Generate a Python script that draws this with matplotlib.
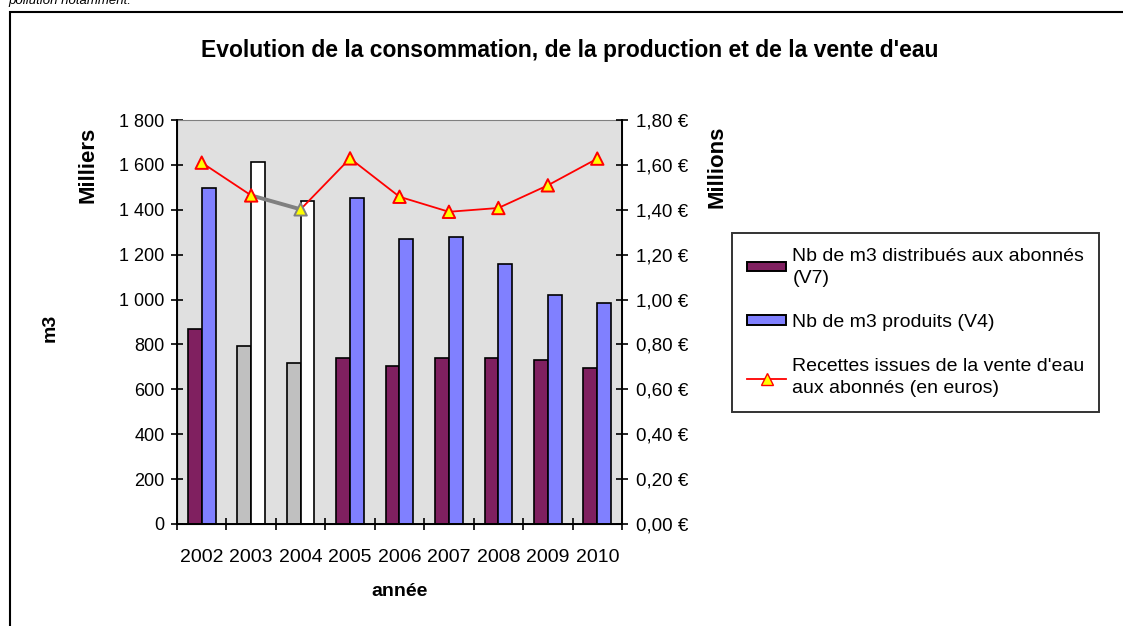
import matplotlib
matplotlib.use("Agg")
import matplotlib.pyplot as plt
import numpy as np
from matplotlib.patches import Rectangle, Patch
from matplotlib.lines import Line2D
from matplotlib.ticker import FuncFormatter, FixedLocator

plt.rcParams['font.family'] = ['Liberation Sans', 'DejaVu Sans']

years = ['2002', '2003', '2004', '2005', '2006', '2007', '2008', '2009', '2010']
distribues = [870, 794, 719, 739, 704, 739, 739, 731, 696]          # milliers de m3
produits = [1496, 1613, 1439, 1454, 1271, 1279, 1160, 1020, 985]    # milliers de m3
recettes = [1.610, 1.464, 1.402, 1.629, 1.458, 1.391, 1.408, 1.509, 1.628]  # millions €

title = "Evolution de la consommation, de la production et de la vente d'eau"
lab_dist = "Nb de m3 distribués aux abonnés\n(V7)"
lab_prod = "Nb de m3 produits (V4)"
lab_rec = "Recettes issues de la vente d'eau\naux abonnés (en euros)"

W, H = 1123, 626
fig = plt.figure(figsize=(W / 100, H / 100), dpi=100)

def fx(px):
    return px / W

def fy(py):
    return 1 - py / H

# outer frame
fig.patches.append(Rectangle((fx(10), fy(700)), fx(1200), fy(12) - fy(700),
                             transform=fig.transFigure, fill=False,
                             edgecolor='black', linewidth=1.5, clip_on=False))
fig.text(fx(8), fy(4), "pollution notamment.", fontsize=9.5, style='italic',
         ha='left', va='baseline')

ax = fig.add_axes([fx(177), fy(524), fx(622) - fx(177), fy(120) - fy(524)])
ax.set_facecolor('#E0E0E0')

x = np.arange(len(years))
w = 0.28
dist_colors = ['#802060'] * len(years)
prod_colors = ['#8080FF'] * len(years)
for i in (1, 2):
    dist_colors[i] = '#C0C0C0'
    prod_colors[i] = '#FFFFFF'
ax.bar(x - w / 2, distribues, w, color=dist_colors, edgecolor='black', linewidth=1.2)
ax.bar(x + w / 2, produits, w, color=prod_colors, edgecolor='black', linewidth=1.2)

ax.set_xlim(-0.5, len(years) - 0.5)
ax.set_ylim(0, 1800)
ax.set_yticks(np.arange(0, 1801, 200))
ax.yaxis.set_major_formatter(FuncFormatter(lambda v, p: f"{int(v):,}".replace(',', ' ')))
ax.set_xticks(x)
ax.set_xticklabels(years)
ax.xaxis.set_minor_locator(FixedLocator(np.arange(-0.5, len(years), 1.0)))
ax.tick_params(axis='x', which='major', length=0, labelsize=14, pad=18)
ax.tick_params(axis='x', which='minor', direction='inout', length=8, width=1.2)
ax.tick_params(axis='y', direction='inout', length=8, width=1.2, labelsize=13, pad=5)
ax.spines['top'].set_color('#808080')
ax.spines['right'].set_color('#808080')
ax.spines['left'].set_linewidth(1.4)
ax.spines['bottom'].set_linewidth(1.4)

ax2 = ax.twinx()
ax2.set_ylim(0, 1.8)
ax2.set_yticks(np.arange(0, 1.81, 0.2))
ax2.yaxis.set_major_formatter(FuncFormatter(lambda v, p: f"{v:.2f}".replace('.', ',') + " €"))
ax2.tick_params(axis='y', direction='inout', length=8, width=1.2, labelsize=13.5, pad=6)
ax2.spines['right'].set_linewidth(1.4)
ax2.spines['right'].set_color('black')
ax2.spines['top'].set_visible(False)

# red line, gray highlighted segment 2003-2004
ax2.plot(x[:2], recettes[:2], color='red', linewidth=1.3, zorder=3)
ax2.plot(x[2:], recettes[2:], color='red', linewidth=1.3, zorder=3)
ax2.plot(x[1:3], recettes[1:3], color='#808080', linewidth=2.8, zorder=3)
edge = ['red'] * len(years)
edge[2] = '#808080'
ax2.scatter(x, recettes, marker='^', s=80, facecolor='#FFFF00', edgecolors=edge,
            linewidths=1.4, zorder=4)

# labels
fig.text(fx(570), fy(50), title, fontsize=16.5, fontweight='bold', ha='center', va='center')
fig.text(fx(400), fy(592), "année", fontsize=14, fontweight='bold', ha='center', va='center')
fig.text(fx(50), fy(328), "m3", fontsize=14, fontweight='bold', ha='center', va='center', rotation=90)
fig.text(fx(88), fy(165), "Milliers", fontsize=16, fontweight='bold', ha='center', va='center', rotation=90)
fig.text(fx(717), fy(167), "Millions", fontsize=16, fontweight='bold', ha='center', va='center', rotation=90)

handles = [Patch(facecolor='#802060', edgecolor='black', linewidth=1.4),
           Patch(facecolor='#8080FF', edgecolor='black', linewidth=1.4),
           Line2D([0], [0], color='red', linewidth=1.3, marker='^', markersize=9,
                  markerfacecolor='#FFFF00', markeredgecolor='red')]
leg = fig.legend(handles, [lab_dist, lab_prod, lab_rec], loc='upper left',
                 bbox_to_anchor=(fx(732), fy(233)), fontsize=14, frameon=True,
                 fancybox=False, edgecolor='black', handlelength=2.05,
                 handleheight=0.35, handletextpad=0.3, labelspacing=1.4,
                 borderpad=0.75, borderaxespad=0)
leg.get_frame().set_linewidth(1.4)
for t in leg.get_texts():
    t.set_linespacing(1.4)

fig.savefig("out.png", dpi=100)
